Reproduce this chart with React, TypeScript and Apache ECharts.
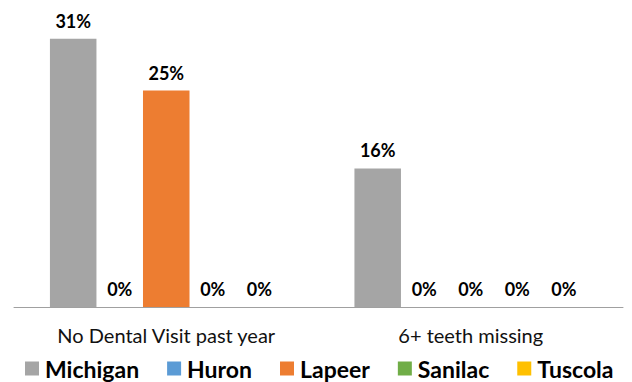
import React, { useEffect, useRef } from "react";
import * as echarts from "echarts";

const categories = ["No Dental Visit past year", "6+ teeth missing"];
const seriesNames = ["Michigan", "Huron", "Lapeer", "Sanilac", "Tuscola"];
const michigan = [31, 16];
const huron = [0, 0];
const lapeer = [25, 0];
const sanilac = [0, 0];
const tuscola = [0, 0];
const colors = ["#A5A5A5", "#5B9BD5", "#ED7D31", "#70AD47", "#FFC000"];

export default function App() {
  const ref = useRef<HTMLDivElement>(null);
  useEffect(() => {
    if (!ref.current) return;
    const chart = echarts.init(ref.current, null, { renderer: "svg" });
    const values = [michigan, huron, lapeer, sanilac, tuscola];
    chart.setOption({
      animation: false,
      textStyle: { fontFamily: "Lato" },
      grid: { left: 14, right: 9, top: 4, bottom: 75 },
      legend: {
        data: seriesNames,
        top: 357,
        left: 25,
        padding: 0,
        itemWidth: 14,
        itemHeight: 14,
        itemGap: 28,
        icon: "rect",
        textStyle: { fontSize: 23, fontWeight: "bold", color: "#000", fontFamily: "Lato", padding: [0, 0, 0, 1] },
      },
      xAxis: {
        type: "category",
        data: categories,
        axisTick: { show: false },
        axisLine: { lineStyle: { color: "#A0A0A0", width: 1 } },
        axisLabel: { fontSize: 20, color: "#111", margin: 18, fontFamily: "Lato" },
      },
      yAxis: {
        type: "value",
        min: 0,
        max: 35,
        show: false,
        splitLine: { show: false },
      },
      series: seriesNames.map((name, i) => ({
        name,
        type: "bar",
        data: values[i],
        barGap: "0%",
        barCategoryGap: "23.6%",
        itemStyle: { color: colors[i] },
        label: {
          show: true,
          position: "top",
          distance: 9,
          formatter: "{c}%",
          fontSize: 18,
          fontWeight: "bold",
          color: "#000",
          fontFamily: "Lato",
        },
      })),
    });
    return () => chart.dispose();
  }, []);
  return (
    <div
      ref={ref}
      style={{ position: "fixed", left: 0, top: 0, width: 632, height: 382, background: "#fff" }}
    />
  );
}
